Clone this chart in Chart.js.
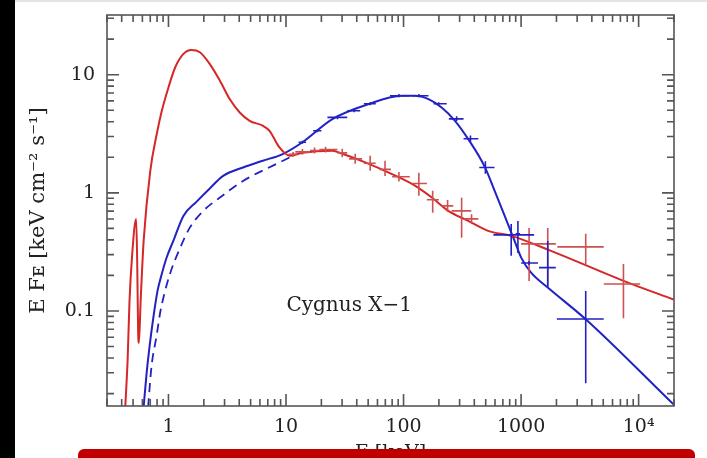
<!DOCTYPE html>
<html><head><meta charset="utf-8">
<script src="https://cdn.jsdelivr.net/npm/chart.js@4.4.1/dist/chart.umd.min.js"></script>
<style>
html,body{margin:0;padding:0;background:#fff;}
#wrap{position:relative;width:707px;height:458px;overflow:hidden;background:#fff;}
#c{position:absolute;left:0;top:0;}
#leftbar{position:absolute;left:0;top:0;width:15px;height:458px;background:#000;}
#topline{position:absolute;left:0;top:0;width:707px;height:2px;background:#e4e4e4;}
#redbar{position:absolute;left:78px;top:449px;width:617px;height:20px;background:#c00000;border-radius:6px;}
</style></head><body>
<div id="wrap"><canvas id="c" width="707" height="458"></canvas><div id="topline"></div><div id="leftbar"></div><div id="redbar"></div></div>
<script>
// ---- data (energy in keV, E F_E in keV cm^-2 s^-1) ----
const redE = [0.429,0.45,0.466,0.49,0.531,0.542,0.552,0.56,0.58,0.615,0.70,0.796,0.878,1.0,1.14,1.34,1.57,1.85,2.25,2.74,3.32,4.04,4.91,6.35,7.24,8.80,10.7,13.8,24.8,30.1,47.2,79.8,125,174,240,355,524,824,1796,7430,19870];
const redF = [0.0154,0.04,0.12,0.29,0.602,0.265,0.0677,0.0535,0.122,0.392,1.53,3.16,4.95,7.8,11.5,15.0,16.2,15.5,12.3,8.9,6.22,4.79,4.07,3.70,3.35,2.42,2.06,2.18,2.27,2.14,1.81,1.44,1.15,0.912,0.704,0.579,0.476,0.432,0.323,0.180,0.125];

const blueE = [0.615,0.652,0.691,0.747,0.807,0.855,0.962,1.10,1.34,1.73,2.27,2.92,4.31,6.35,9.38,13.8,24.8,50.7,96.9,125,163,211,274,355,491,596,773,880,1002,1217,1686,3548,19800];
const blueF = [0.0154,0.0298,0.0505,0.0907,0.148,0.187,0.281,0.392,0.638,0.839,1.10,1.39,1.64,1.87,2.13,2.68,4.21,5.65,6.64,6.64,6.22,5.28,4.07,2.85,1.66,1.04,0.543,0.392,0.283,0.211,0.158,0.0851,0.0162];

const dashE = [0.671,0.718,0.792,0.855,0.908,1.03,1.26,1.52,1.98,2.74,4.31,8.23,10.7];
const dashF = [0.0154,0.0342,0.0614,0.10,0.131,0.206,0.344,0.508,0.704,0.912,1.26,1.75,1.99];

// error-bar crosses: centre, x-range, y-range
const redErrE   = [11.5,13.8,17.5,21.7,30.1,38.8,52,69.6,91.4,135,177,237,312,379,1170,1686,3548,7430];
const redErrF   = [2.12,2.22,2.28,2.33,2.18,1.94,1.78,1.58,1.37,1.20,0.873,0.776,0.704,0.602,0.37,0.37,0.349,0.169];
const redErrElo = [10.5,12.0,16.0,19.2,27.4,34.4,46,62,80,117,158,210,256,324,1000,1420,2035,5050];
const redErrEhi = [12.5,16.0,19.2,27.4,33.2,44.4,58,78,113,158,200,265,377,433,1420,1975,5050,10300];
const redErrFlo = [2.02,2.1,2.15,2.2,2.0,1.76,1.54,1.39,1.25,0.943,0.677,0.69,0.416,0.55,0.179,0.163,0.25,0.087];
const redErrFhi = [2.22,2.35,2.42,2.46,2.36,2.14,2.06,1.87,1.5,1.48,1.04,0.87,0.907,0.66,0.505,0.505,0.45,0.25];

const blueErrE   = [13.8,18.5,27.4,37.9,52,91.4,135,199,283,371,497,824,940,1170,1686,3548];
const blueErrF   = [2.68,3.35,4.35,4.95,5.68,6.64,6.64,5.68,4.23,2.87,1.64,0.441,0.45,0.255,0.233,0.0855];
const blueErrElo = [12.8,17.0,22.5,33.2,46,76.7,117,180,243,324,441,581,900,1002,1420,2018];
const blueErrEhi = [14.8,20.0,33.2,42.8,58,113,163,233,324,433,594,1291,980,1393,1975,5050];
const blueErrFlo = [2.6,3.25,4.2,4.8,5.5,6.45,6.45,5.5,4.05,2.7,1.45,0.293,0.31,0.245,0.157,0.0245];
const blueErrFhi = [2.76,3.45,4.5,5.1,5.85,6.85,6.85,5.85,4.45,3.05,1.85,0.546,0.579,0.265,0.392,0.148];

const xTickValues = [1,10,100,1000,10000];
const xTickLabels = ['1','10','100','1000','10\u2074'];
const yTickValues = [0.1,1,10];
const yTickLabels = ['0.1','1','10'];
const xTitle = 'E [keV]';
const yTitle = 'E F\u1D07 [keV cm\u207B\u00B2 s\u207B\u00B9]';
const labelText = 'Cygnus X\u22121';
const labelAt = {x: 34.5, y: 0.11};

const RED = 'rgb(214,38,38)';
const REDERR = 'rgb(206,80,80)';
const BLUE = 'rgb(34,34,196)';
const TXT = '#222';
const FONT = 'DejaVu Serif';

const pts = (xs, ys) => xs.map((v, i) => ({x: v, y: ys[i]}));

const errPlugin = {
  id: 'errbars',
  afterDatasetsDraw(chart) {
    const {ctx, scales: {x, y}, chartArea: a} = chart;
    ctx.save();
    ctx.beginPath(); ctx.rect(a.left, a.top, a.right - a.left, a.bottom - a.top); ctx.clip();
    const draw = (E, F, El, Eh, Fl, Fh, col) => {
      ctx.strokeStyle = col; ctx.lineWidth = 1.6;
      for (let i = 0; i < E.length; i++) {
        const px = x.getPixelForValue(E[i]), py = y.getPixelForValue(F[i]);
        ctx.beginPath();
        ctx.moveTo(x.getPixelForValue(El[i]), py); ctx.lineTo(x.getPixelForValue(Eh[i]), py);
        ctx.moveTo(px, y.getPixelForValue(Fl[i])); ctx.lineTo(px, y.getPixelForValue(Fh[i]));
        ctx.stroke();
      }
    };
    draw(redErrE, redErrF, redErrElo, redErrEhi, redErrFlo, redErrFhi, REDERR);
    draw(blueErrE, blueErrF, blueErrElo, blueErrEhi, blueErrFlo, blueErrFhi, BLUE);
    ctx.restore();
    ctx.save();
    ctx.fillStyle = TXT; ctx.font = '20px "' + FONT + '"';
    ctx.textAlign = 'center'; ctx.textBaseline = 'middle';
    ctx.fillText(labelText, x.getPixelForValue(labelAt.x), y.getPixelForValue(labelAt.y));
    ctx.restore();
  }
};

const framePlugin = {
  id: 'frame',
  afterDraw(chart) {
    const {ctx, scales: {x, y}, chartArea: a} = chart;
    ctx.save();
    ctx.strokeStyle = '#555'; ctx.lineWidth = 1.6;
    ctx.strokeRect(a.left, a.top, a.right - a.left, a.bottom - a.top);
    ctx.beginPath();
    const doAxis = (s, horiz) => {
      const lo = Math.floor(Math.log10(s.min)), hi = Math.ceil(Math.log10(s.max));
      for (let n = lo; n <= hi; n++) for (let k = 1; k <= 9; k++) {
        const v = k * Math.pow(10, n);
        if (v < s.min || v > s.max) continue;
        const p = s.getPixelForValue(v), L = k === 1 ? 12 : 7;
        if (horiz) { ctx.moveTo(p, a.bottom); ctx.lineTo(p, a.bottom - L); ctx.moveTo(p, a.top); ctx.lineTo(p, a.top + L); }
        else { ctx.moveTo(a.left, p); ctx.lineTo(a.left + L, p); ctx.moveTo(a.right, p); ctx.lineTo(a.right - L, p); }
      }
    };
    doAxis(x, true); doAxis(y, false);
    ctx.stroke();
    ctx.restore();
  }
};

new Chart(document.getElementById('c'), {
  type: 'scatter',
  data: {
    datasets: [
      {data: pts(redE, redF), showLine: true, borderColor: RED, borderWidth: 2, pointRadius: 0, cubicInterpolationMode: 'monotone'},
      {data: pts(blueE, blueF), showLine: true, borderColor: BLUE, borderWidth: 2, pointRadius: 0, cubicInterpolationMode: 'monotone'},
      {data: pts(dashE, dashF), showLine: true, borderColor: BLUE, borderWidth: 1.8, borderDash: [9, 6], pointRadius: 0, cubicInterpolationMode: 'monotone'}
    ]
  },
  options: {
    responsive: false, animation: false, devicePixelRatio: 1,
    layout: {padding: {left: 0, top: 15, right: 33, bottom: 0}},
    plugins: {legend: {display: false}, tooltip: {enabled: false}},
    scales: {
      x: {
        type: 'logarithmic', min: 0.32, max: 20000,
        grid: {display: false, drawTicks: false}, border: {display: false},
        afterBuildTicks: s => { s.ticks = xTickValues.map(v => ({value: v})); },
        afterFit: s => { s.height = 52; s.paddingLeft = 0; s.paddingRight = 0; },
        ticks: {autoSkip: false, maxRotation: 0, padding: 10, color: TXT, font: {family: FONT, size: 19},
          callback: (v, i) => xTickLabels[i]},
        title: {display: true, text: xTitle, color: TXT, font: {family: FONT, size: 19}, padding: {top: 0, bottom: -6}}
      },
      y: {
        type: 'logarithmic', min: 0.0157, max: 32,
        grid: {display: false, drawTicks: false}, border: {display: false},
        afterBuildTicks: s => { s.ticks = yTickValues.map(v => ({value: v})); },
        afterFit: s => { s.width = 107; s.paddingTop = 0; s.paddingBottom = 0; },
        ticks: {autoSkip: false, padding: 12, color: TXT, font: {family: FONT, size: 19},
          callback: (v, i) => yTickLabels[i]},
        title: {display: true, text: yTitle, color: TXT, font: {family: FONT, size: 21}, padding: {top: 26, bottom: 0}}
      }
    }
  },
  plugins: [errPlugin, framePlugin]
});
</script>
</body></html>
